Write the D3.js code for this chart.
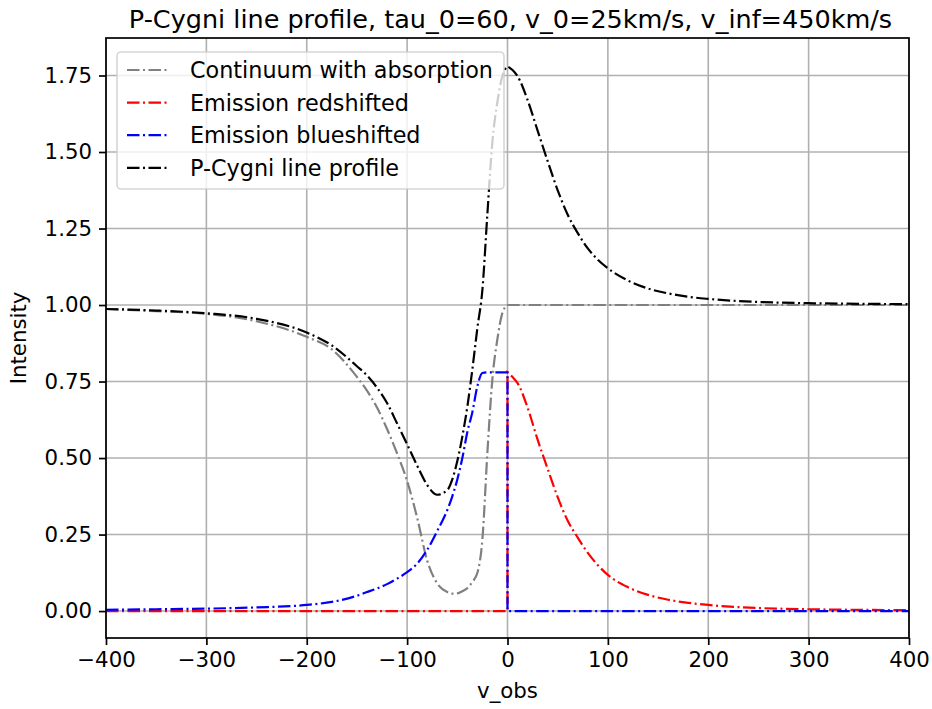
<!DOCTYPE html>
<html lang="en">
<head>
<meta charset="utf-8">
<title>P-Cygni line profile</title>
<script src="https://d3js.org/d3.v7.min.js"></script>
<style>
  body { margin: 0; background: #fff; }
  text { font-family: "DejaVu Sans", sans-serif; }
</style>
</head>
<body>
<script>
// velocities (km/s), 0 appears twice for the jump
var vel = [-400, -350, -300, -250, -200, -175, -150, -140, -130, -120, -110, -100, -90, -80, -70,
  -60, -55, -50, -45, -40, -35, -30, -25, -20, -15, -10, -5, 0,
  0, 5, 10, 20, 30, 40, 50, 60, 70, 80, 90, 100, 120, 140, 160, 180, 200, 250, 300, 350, 400];

var continuum = [0.987, 0.980, 0.971, 0.947, 0.896, 0.855, 0.765, 0.72, 0.665, 0.595, 0.515, 0.425, 0.305, 0.165, 0.09,
  0.062, 0.057, 0.058, 0.065, 0.075, 0.095, 0.125, 0.235, 0.52, 0.76, 0.89, 0.975, 1.0,
  1.0, 1.0, 1.0, 1.0, 1.0, 1.0, 1.0, 1.0, 1.0, 1.0, 1.0, 1.0, 1.0, 1.0, 1.0, 1.0, 1.0, 1.0, 1.0, 1.0, 1.0];

var redshifted = [0, 0, 0, 0, 0, 0, 0, 0, 0, 0, 0, 0, 0, 0, 0,
  0, 0, 0, 0, 0, 0, 0, 0, 0, 0, 0, 0, 0,
  0.78, 0.765, 0.745, 0.665, 0.56, 0.465, 0.372, 0.295, 0.24, 0.19, 0.15, 0.118, 0.078, 0.053, 0.037, 0.027, 0.02, 0.01, 0.006, 0.004, 0.003];

var blueshifted = [0.004, 0.006, 0.008, 0.012, 0.02, 0.03, 0.05, 0.062, 0.074, 0.088, 0.106, 0.127, 0.155, 0.2, 0.262,
  0.33, 0.375, 0.43, 0.5, 0.585, 0.65, 0.735, 0.778, 0.78, 0.78, 0.78, 0.78, 0.78,
  0, 0, 0, 0, 0, 0, 0, 0, 0, 0, 0, 0, 0, 0, 0, 0, 0, 0, 0, 0, 0];

var profile = [0.987, 0.982, 0.973, 0.955, 0.91, 0.868, 0.8, 0.77, 0.73, 0.68, 0.613, 0.545, 0.475, 0.412, 0.38,
  0.395, 0.43, 0.49, 0.57, 0.668, 0.79, 0.925, 1.05, 1.30, 1.535, 1.665, 1.75, 1.78,
  1.78, 1.768, 1.748, 1.67, 1.57, 1.47, 1.375, 1.295, 1.235, 1.185, 1.148, 1.12, 1.08, 1.054, 1.038, 1.027, 1.02, 1.01, 1.006, 1.004, 1.003];

var xTicks = [-400, -300, -200, -100, 0, 100, 200, 300, 400];
var yTicks = [0, 0.25, 0.5, 0.75, 1.0, 1.25, 1.5, 1.75];

var series = [
  {name: "Continuum with absorption", color: "#808080", values: continuum},
  {name: "Emission redshifted", color: "#ff0000", values: redshifted},
  {name: "Emission blueshifted", color: "#0000ff", values: blueshifted},
  {name: "P-Cygni line profile", color: "#000000", values: profile}
];

var w = 932, h = 709;
var plotL = 106, plotR = 909, plotT = 38, plotB = 638;
var dash = "12.5,3.5,2,3.5";
var split = vel.indexOf(0) + 1; // first index right of the jump

var xScale = d3.scaleLinear().domain([-400, 400]).range([plotL, plotR]);
var yScale = d3.scaleLinear().domain([-0.088, 1.8725]).range([plotB, plotT]);

var svg = d3.select("body").append("svg")
  .attr("width", w)
  .attr("height", h);

// grid
svg.append("g").selectAll("line").data(xTicks).enter().append("line")
  .attr("x1", d => xScale(d)).attr("x2", d => xScale(d))
  .attr("y1", plotT).attr("y2", plotB)
  .attr("stroke", "#b0b0b0").attr("stroke-width", 1.6);
svg.append("g").selectAll("line").data(yTicks).enter().append("line")
  .attr("x1", plotL).attr("x2", plotR)
  .attr("y1", d => yScale(d)).attr("y2", d => yScale(d))
  .attr("stroke", "#b0b0b0").attr("stroke-width", 1.6);

// curves: smooth each side of v=0, joined by the vertical jump
var line = d3.line()
  .x(d => xScale(d[0]))
  .y(d => yScale(d[1]))
  .curve(d3.curveMonotoneX);

function curvePath(values) {
  var pts = vel.map((v, i) => [v, values[i]]);
  var a = line(pts.slice(0, split));
  var b = line(pts.slice(split));
  return a + b.replace(/^M/, "L");
}

svg.append("g").selectAll("path").data(series).enter().append("path")
  .attr("d", d => curvePath(d.values))
  .attr("fill", "none")
  .attr("stroke", d => d.color)
  .attr("stroke-width", 2.2)
  .attr("stroke-dasharray", dash);

// axes
var xAxis = d3.axisBottom(xScale).tickValues(xTicks).tickSize(7).tickPadding(7);
var yAxis = d3.axisLeft(yScale).tickValues(yTicks).tickSize(7).tickPadding(7).tickFormat(d3.format(".2f"));

var gx = svg.append("g").attr("transform", "translate(0," + plotB + ")").call(xAxis);
var gy = svg.append("g").attr("transform", "translate(" + plotL + ",0)").call(yAxis);
[gx, gy].forEach(function (g) {
  g.select(".domain").remove();
  g.selectAll(".tick line").attr("stroke", "#000").attr("stroke-width", 1.7);
  g.selectAll(".tick text").attr("fill", "#000").style("font-size", "21.3px");
});

// frame
svg.append("rect")
  .attr("x", plotL).attr("y", plotT)
  .attr("width", plotR - plotL).attr("height", plotB - plotT)
  .attr("fill", "none").attr("stroke", "#000").attr("stroke-width", 1.7);

// legend
var lg = svg.append("g");
lg.append("rect")
  .attr("x", 117).attr("y", 52).attr("width", 387).attr("height", 137)
  .attr("rx", 4).attr("ry", 4)
  .attr("fill", "#fff").attr("fill-opacity", 0.8)
  .attr("stroke", "#cccccc").attr("stroke-opacity", 0.8).attr("stroke-width", 1.6);
var rows = lg.selectAll("g.row").data(series).enter().append("g")
  .attr("transform", (d, i) => "translate(0," + (70 + i * 32.6) + ")");
rows.append("line")
  .attr("x1", 127).attr("x2", 170).attr("y1", 0).attr("y2", 0)
  .attr("stroke", d => d.color).attr("stroke-width", 2.2)
  .attr("stroke-dasharray", dash);
rows.append("text")
  .attr("x", 190).attr("y", 8)
  .style("font-size", "22.3px")
  .text(d => d.name);

// titles
svg.append("text")
  .attr("x", (plotL + plotR) / 2 + 3).attr("y", 28)
  .attr("text-anchor", "middle")
  .style("font-size", "25.5px")
  .text("P-Cygni line profile, tau_0=60, v_0=25km/s, v_inf=450km/s");

svg.append("text")
  .attr("x", (plotL + plotR) / 2).attr("y", 698)
  .attr("text-anchor", "middle")
  .style("font-size", "21.3px")
  .text("v_obs");

svg.append("text")
  .attr("transform", "translate(26," + ((plotT + plotB) / 2) + ") rotate(-90)")
  .attr("text-anchor", "middle")
  .style("font-size", "21.3px")
  .text("Intensity");
</script>
</body>
</html>
